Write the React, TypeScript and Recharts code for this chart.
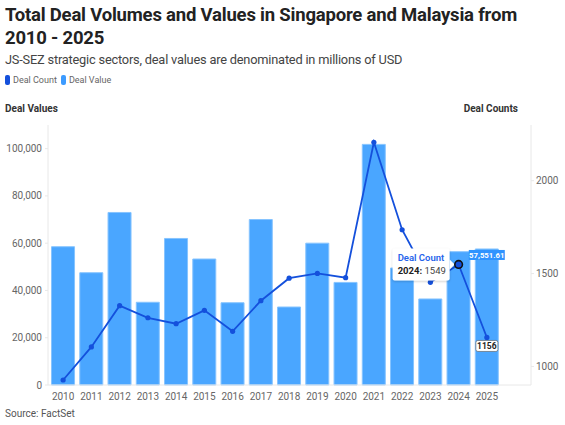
import { ComposedChart, Bar, Line, XAxis, YAxis, LabelList } from 'recharts';

const years = ['2010', '2011', '2012', '2013', '2014', '2015', '2016', '2017', '2018', '2019', '2020', '2021', '2022', '2023', '2024', '2025'];
const dealValues = [58500, 47500, 73000, 35000, 62000, 53300, 34800, 70000, 33000, 60000, 43400, 101800, 49500, 36400, 56400, 57551.61];
const dealCounts = [927, 1105, 1327, 1262, 1230, 1302, 1189, 1354, 1475, 1501, 1478, 2207, 1736, 1453, 1549, 1156];
const valueTicks = [0, 20000, 40000, 60000, 80000, 100000];
const countTicks = [1000, 1500, 2000];

const tooltipIndex = 14; // hovered year shown in the reference
const lastIndex = years.length - 1;

const BAR = '#4aa6ff';
const BAR_EDGE = '#86c4ff';
const LINE = '#1450dc';
const AXIS = '#e8e8e8';
const FONT = 'Roboto, "Noto Sans", sans-serif';

const data = years.map((year, i) => ({ year, value: dealValues[i], count: dealCounts[i] }));

function CountDot(props: any) {
  const { cx, cy, index } = props;
  if (index === tooltipIndex) {
    const bx = cx - 66;
    const by = cy - 16;
    return (
      <g>
        <g filter="url(#tipShadow)">
          <rect x={bx} y={by} width={57} height={32} rx={2} fill="#fff" />
          <path d={`M ${cx - 9} ${cy - 5} L ${cx - 4} ${cy} L ${cx - 9} ${cy + 5} Z`} fill="#fff" />
        </g>
        <text x={bx + 5} y={by + 13} fontSize={9.5} fontWeight={600} fill="#2563eb" fontFamily={FONT}>
          Deal Count
        </text>
        <text x={bx + 5} y={by + 26} fontSize={9.5} fill="#444" fontFamily={FONT}>
          <tspan fontWeight={700} fill="#222">{years[index]}:</tspan> {dealCounts[index]}
        </text>
        <circle cx={cx} cy={cy} r={3.8} fill={LINE} stroke="#111" strokeWidth={1.6} />
      </g>
    );
  }
  if (index === lastIndex) {
    return (
      <g>
        <circle cx={cx} cy={cy} r={2.6} fill={LINE} />
        <rect x={cx - 11} y={cy + 3} width={22} height={11} rx={2} fill="#fff" stroke="#555" strokeWidth={0.6} />
        <text x={cx} y={cy + 11.5} fontSize={8.5} fontWeight={700} fill="#222" textAnchor="middle" fontFamily={FONT}>
          {dealCounts[index]}
        </text>
      </g>
    );
  }
  return <circle cx={cx} cy={cy} r={2.6} fill={LINE} />;
}

function ValueLabel(props: any) {
  const { x, y, width, index, value } = props;
  if (index !== lastIndex) return null;
  const text = Number(value).toLocaleString('en-US', { minimumFractionDigits: 2 });
  return (
    <g>
      <rect x={x + width / 2 - 18} y={y + 1} width={36} height={10} fill="#2f93ff" />
      <text x={x + width / 2} y={y + 8.8} fontSize={7.8} fontWeight={700} fill="#fff" textAnchor="middle" fontFamily={FONT}>
        {text}
      </text>
    </g>
  );
}

export default function App() {
  return (
    <div style={{ position: 'absolute', left: 0, top: 0, width: 565, height: 425, background: '#fff', fontFamily: FONT, overflow: 'hidden' }}>
      <div style={{ position: 'absolute', left: 5, top: 4, fontSize: 18.5, fontWeight: 700, lineHeight: '23px', color: '#222', whiteSpace: 'nowrap', letterSpacing: -0.2 }}>
        Total Deal Volumes and Values in Singapore and Malaysia from
        <br />
        2010 - 2025
      </div>
      <div style={{ position: 'absolute', left: 5, top: 52, fontSize: 12.8, color: '#444', whiteSpace: 'nowrap', letterSpacing: -0.2 }}>
        JS-SEZ strategic sectors, deal values are denominated in millions of USD
      </div>
      <div style={{ position: 'absolute', left: 5, top: 75, fontSize: 9, color: '#666', display: 'flex', alignItems: 'center', gap: 3 }}>
        <span style={{ width: 5, height: 10, borderRadius: 2, background: LINE, display: 'inline-block' }} />
        <span>Deal Count</span>
        <span style={{ width: 5, height: 10, borderRadius: 2, background: '#3d9bff', display: 'inline-block', marginLeft: 1 }} />
        <span>Deal Value</span>
      </div>
      <div style={{ position: 'absolute', left: 5, top: 103, fontSize: 10, fontWeight: 700, color: '#333' }}>Deal Values</div>
      <div style={{ position: 'absolute', right: 47, top: 103, fontSize: 10, fontWeight: 700, color: '#333' }}>Deal Counts</div>
      <div style={{ position: 'absolute', left: 5, top: 408, fontSize: 10, color: '#555' }}>Source: FactSet</div>
      <div style={{ position: 'absolute', left: 0, top: 0 }}>
        <ComposedChart width={565} height={425} data={data} margin={{ top: 125, right: 0, bottom: 10, left: 0 }} barCategoryGap="9%">
          <defs>
            <filter id="tipShadow" x="-20%" y="-30%" width="140%" height="160%">
              <feDropShadow dx={0} dy={1} stdDeviation={1.2} floodColor="#000" floodOpacity={0.2} />
            </filter>
          </defs>
          <XAxis
            dataKey="year"
            height={30}
            padding={{ left: 1, right: 30 }}
            axisLine={{ stroke: AXIS }}
            tickLine={false}
            tick={{ fontSize: 10, fill: '#666', fontFamily: FONT }}
            interval={0}
          />
          <YAxis
            yAxisId="value"
            width={48}
            domain={[0, 110000]}
            ticks={valueTicks}
            tickFormatter={(v: number) => v.toLocaleString('en-US')}
            axisLine={{ stroke: AXIS }}
            tickLine={{ stroke: AXIS }}
            tickSize={3}
            tickMargin={3}
            tick={{ fontSize: 10, fill: '#666', fontFamily: FONT }}
          />
          <YAxis
            yAxisId="count"
            orientation="right"
            width={34}
            domain={[900, 2300]}
            ticks={countTicks}
            axisLine={{ stroke: AXIS }}
            tickLine={{ stroke: AXIS }}
            tickSize={3}
            tickMargin={2}
            tick={{ fontSize: 10, fill: '#666', fontFamily: FONT }}
          />
          <Bar yAxisId="value" dataKey="value" fill={BAR} stroke={BAR_EDGE} strokeWidth={1} isAnimationActive={false}>
            <LabelList dataKey="value" content={ValueLabel} />
          </Bar>
          <Line
            yAxisId="count"
            dataKey="count"
            type="linear"
            stroke={LINE}
            strokeWidth={1.8}
            dot={CountDot}
            activeDot={false}
            isAnimationActive={false}
          />
        </ComposedChart>
      </div>
    </div>
  );
}
